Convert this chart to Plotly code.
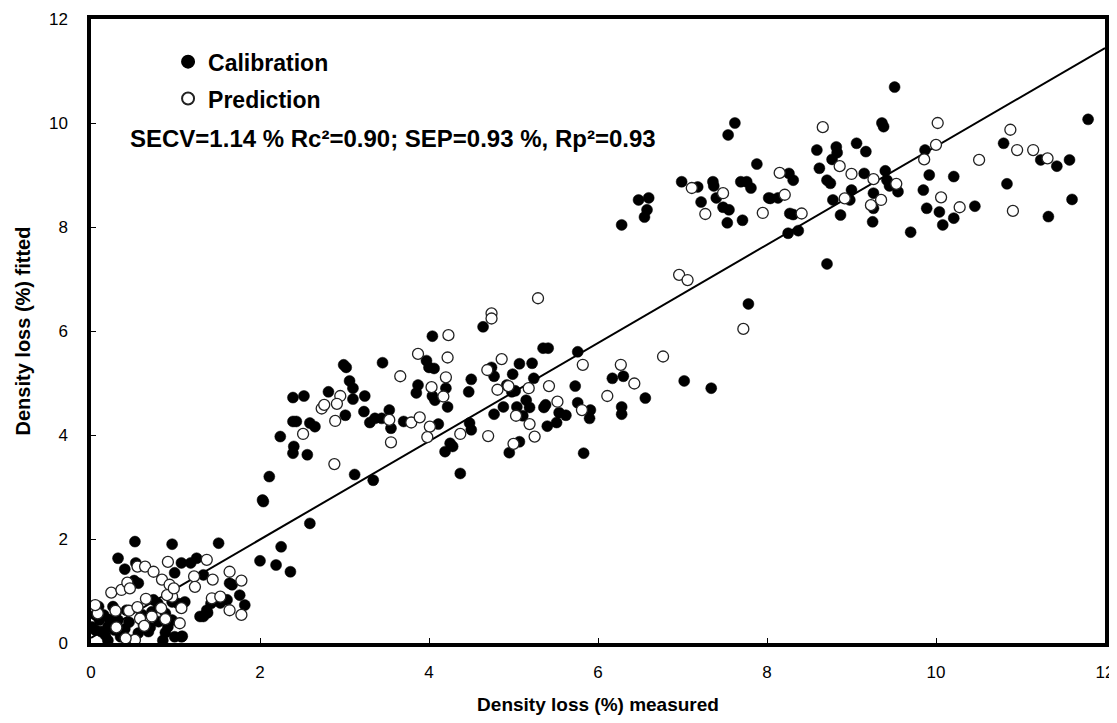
import plotly.graph_objects as go

# Calibration set (filled circles)
cal_x = [0.52,0.96,1.51,0.32,0.40,0.53,1.07,1.18,1.25,0.99,1.33,2.0,2.19,2.25,0.51,0.56,0.74,0.79,0.96,1.03,1.11,1.67,1.76,1.82,1.42,1.37,1.29,1.33,0.09,0.05,0.10,0.20,0.01,0.28,0.32,0.42,0.40,0.56,0.68,0.80,0.91,0.99,1.07,0.17,0.26,0.72,0.88,0.96,0.15,2.36,2.59,2.04,1.08,1.38,1.53,1.61,1.64,0.62,0.48,0.85,0.12,0.35,0.05,0.22,0.30,0.45,0.60,0.70,0.20,0.88,
         2.03,2.11,2.24,2.39,2.40,2.56,2.39,2.43,2.59,2.65,2.39,2.52,2.81,3.01,3.10,3.10,3.06,2.99,3.02,3.24,3.23,3.30,3.36,3.44,3.53,3.55,3.45,3.70,3.12,3.34,4.04,3.97,4.0,4.06,3.87,3.85,4.04,4.07,4.20,4.22,4.11,4.47,4.50,4.64,4.48,4.50,4.19,4.25,4.28,4.37,
         4.74,4.77,4.99,5.07,5.22,5.35,5.41,5.76,5.24,4.92,4.98,5.02,5.15,4.88,4.77,5.04,5.11,5.19,5.36,5.38,5.54,5.62,5.40,5.51,5.73,5.76,5.91,5.90,5.07,4.95,5.83,6.17,6.30,6.28,6.28,6.56,7.02,7.34,
         6.28,6.48,6.60,6.58,6.55,6.99,7.18,7.36,7.37,7.22,7.40,7.48,7.55,7.53,7.71,7.62,7.54,7.88,7.69,7.76,7.81,8.02,8.13,7.78,
         9.51,8.59,8.82,8.83,8.77,9.06,9.17,9.36,9.38,8.62,8.71,8.75,9.15,9.40,9.42,9.45,9.0,9.26,8.78,8.87,8.98,9.25,9.26,9.55,9.87,9.92,9.85,9.89,10.04,10.08,10.21,10.21,10.46,9.70,8.71,8.25,8.37,8.27,8.31,8.04,8.26,8.31,10.80,10.84,11.24,11.43,11.58,11.61,11.33,11.80]
cal_y = [1.95,1.90,1.92,1.63,1.42,1.54,1.54,1.54,1.63,1.35,1.31,1.58,1.50,1.85,1.20,1.15,0.83,0.76,0.79,0.76,0.79,1.12,0.92,0.73,0.76,0.63,0.51,0.51,0.70,0.54,0.44,0.31,0.31,0.25,0.44,0.63,0.27,0.19,0.22,0.41,0.31,0.12,0.12,0.15,0.70,0.60,0.57,0.44,0.54,1.37,2.30,2.72,0.13,0.58,0.77,0.83,1.15,0.35,0.05,0.05,0.22,0.12,0.25,0.45,0.60,0.40,0.55,0.30,0.05,0.20,
         2.75,3.20,3.97,3.65,3.78,3.62,4.26,4.26,4.23,4.16,4.72,4.75,4.83,4.38,4.69,4.90,5.04,5.35,5.30,4.75,4.45,4.24,4.32,4.32,4.48,4.13,5.39,4.26,3.24,3.13,5.90,5.43,5.30,5.28,4.96,4.81,4.75,4.67,4.90,4.54,4.21,4.83,5.07,6.08,4.23,4.10,3.68,3.84,3.78,3.26,
         5.30,5.13,5.17,5.37,5.38,5.67,5.67,5.60,5.09,4.96,4.83,4.85,4.67,4.54,4.40,4.54,4.37,4.53,4.53,4.58,4.43,4.38,4.17,4.24,4.94,4.62,4.48,4.32,3.87,3.66,3.65,5.09,5.13,4.54,4.40,4.71,5.04,4.90,
         8.04,8.52,8.56,8.33,8.19,8.87,8.77,8.87,8.79,8.48,8.56,8.38,8.33,8.08,8.13,10.0,9.77,9.21,8.87,8.87,8.75,8.56,8.56,6.52,
         10.69,9.48,9.54,9.43,9.30,9.61,9.45,10.0,9.93,9.13,8.90,8.84,9.03,9.08,8.90,8.79,8.71,8.65,8.52,8.23,8.52,8.10,8.36,8.68,9.48,9.0,8.71,8.36,8.29,8.04,8.97,8.17,8.40,7.90,7.29,7.88,7.93,8.26,8.24,8.55,9.03,8.90,9.61,8.83,9.29,9.17,9.29,8.53,8.20,10.07]

# Prediction set (open circles)
pred_x = [0.08,0.24,0.36,0.43,0.46,0.55,0.64,0.74,0.84,0.91,0.93,0.96,1.37,1.22,1.23,1.44,1.64,1.78,1.43,1.53,1.64,1.78,0.29,0.45,0.55,0.58,0.63,0.72,0.88,0.83,1.07,1.05,0.90,0.52,0.41,0.05,0.30,0.65,0.98,
          2.51,2.73,2.76,2.95,2.91,2.89,2.88,3.53,3.55,3.66,3.79,3.89,4.01,3.98,3.87,4.03,4.17,4.20,4.23,4.22,4.37,4.69,4.74,4.74,5.29,4.86,4.81,4.94,5.18,5.42,5.52,5.82,5.81,5.03,5.19,5.25,4.70,5.0,6.27,6.43,6.11,6.77,
          7.11,7.27,7.48,7.95,8.15,6.96,7.06,7.72,8.66,8.21,8.86,9.0,9.26,8.92,9.23,9.35,9.53,8.41,9.86,10.0,10.02,10.06,10.28,10.51,10.88,10.96,11.15,11.32,10.91]
pred_y = [0.57,0.97,1.02,1.16,1.05,1.47,1.47,1.37,1.22,1.56,1.12,0.89,1.60,1.28,1.08,1.22,1.37,1.20,0.86,0.89,0.63,0.54,0.62,0.62,0.69,0.47,0.33,0.51,0.46,0.67,0.67,0.38,0.92,0.06,0.09,0.73,0.30,0.85,1.05,
          4.02,4.51,4.58,4.75,4.60,4.27,3.44,4.29,3.86,5.13,4.24,4.34,4.16,3.96,5.56,4.92,4.74,5.11,5.92,5.49,4.02,5.25,6.34,6.24,6.63,5.46,4.87,4.94,4.90,4.94,4.64,5.35,4.48,4.37,4.21,3.97,3.98,3.83,5.35,4.99,4.75,5.51,
          8.75,8.25,8.65,8.27,9.04,7.08,6.98,6.04,9.92,8.62,9.17,9.02,8.92,8.55,8.42,8.52,8.83,8.26,9.30,9.58,10.0,8.57,8.38,9.29,9.87,9.48,9.48,9.32,8.31]

# Regression line
line_x = [0, 12]
line_y = [0.10, 11.44]

stats_text = "SECV=1.14 % Rc²=0.90; SEP=0.93 %, Rp²=0.93"

FONT = "Liberation Sans, Arial, sans-serif"

fig = go.Figure()
fig.add_trace(go.Scatter(x=line_x, y=line_y, mode="lines",
                         line=dict(color="black", width=2), showlegend=False, hoverinfo="skip"))
fig.add_trace(go.Scatter(x=cal_x, y=cal_y, mode="markers", name="Calibration", legendgroup="c",
                         marker=dict(symbol="circle", size=11, color="black", line=dict(color="black", width=0.5))))
fig.add_trace(go.Scatter(x=pred_x, y=pred_y, mode="markers", name="Prediction", legendgroup="p",
                         marker=dict(symbol="circle", size=11, color="white", line=dict(color="#222222", width=1.3))))

axis_common = dict(showline=True, linecolor="black", linewidth=3.5, mirror=True,
                   ticks="inside", ticklen=5, tickwidth=1, tickcolor="black",
                   showgrid=False, zeroline=False, automargin=False,
                   ticklabeloverflow="allow",
                   tickfont=dict(family=FONT, size=17, color="black"))

fig.update_xaxes(range=[0, 12], dtick=2, tick0=0, **axis_common, ticklabelstandoff=11,
                 title=dict(text="<b>Density loss (%) measured</b>", font=dict(family=FONT, size=19, color="black"), standoff=19))
fig.update_yaxes(range=[0, 12], dtick=2, tick0=0, **axis_common, ticklabelstandoff=16,
                 title=dict(text="<b>Density loss (%) fitted</b>", font=dict(family=FONT, size=20, color="black"), standoff=14))

fig.add_annotation(x=0.036, y=0.808, xref="paper", yref="paper", xanchor="left", yanchor="middle",
                   text="<b>" + stats_text + "</b>", showarrow=False,
                   font=dict(family=FONT, size=24, color="black"))

fig.update_layout(
    width=1109, height=707,
    margin=dict(l=83, r=12, t=11, b=72),
    paper_bgcolor="white", plot_bgcolor="white",
    legend=dict(x=0.076, y=0.966, xanchor="left", yanchor="top",
                font=dict(family=FONT, size=23, color="black", weight="bold"),
                bgcolor="rgba(0,0,0,0)", traceorder="grouped", tracegroupgap=4,
                itemsizing="constant"),
)

fig.write_html("out.html")
